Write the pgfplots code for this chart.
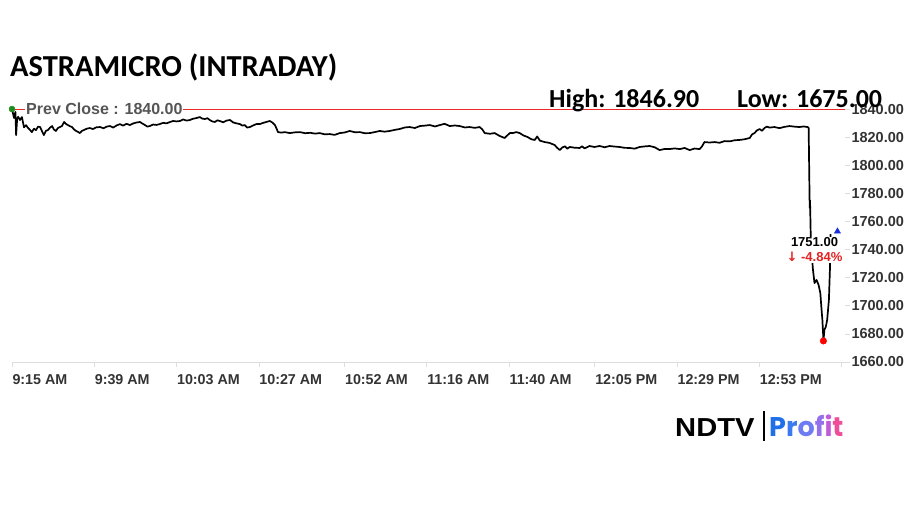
\documentclass[border=0pt]{standalone}
\usepackage{fontspec}
\setmainfont{Liberation Sans}
\newfontfamily\calfont{Carlito}
\newfontfamily\popfont{Poppins}
\newfontfamily\djvfont{DejaVu Sans}
\usepackage{pgfplots}
\pgfplotsset{compat=1.18}

\definecolor{tickgray}{HTML}{333333}
\definecolor{axisgray}{HTML}{DDDDDD}
\definecolor{prevgray}{HTML}{555555}
\definecolor{prevred}{RGB}{235,40,40}
\definecolor{dropred}{HTML}{E52222}
\definecolor{opengreen}{HTML}{1E8C1E}
\definecolor{lastblue}{HTML}{1A2ED8}
\definecolor{pA}{HTML}{1E6FE8}
\definecolor{pB}{HTML}{3C7AF0}
\definecolor{pC}{HTML}{6D7CF2}
\definecolor{pD}{HTML}{9470EC}
\definecolor{pE}{HTML}{C05CD8}
\definecolor{pF}{HTML}{EE4D9A}

\begin{document}
\begin{tikzpicture}[x=1pt,y=1pt]
\path[use as bounding box] (0,0) rectangle (914,514);

\begin{axis}[
    at={(12pt,152pt)}, anchor=south west,
    width=833pt, height=267pt, scale only axis,
    xmin=0, xmax=243, ymin=1660, ymax=1850,
    axis x line*=bottom, axis y line*=right,
    x axis line style={draw=axisgray, line width=0.8pt},
    y axis line style={draw=none},
    xtick={0,24,48,72,97,121,145,170,194,218,242},
    xticklabels={9:15 AM,9:39 AM,10:03 AM,10:27 AM,10:52 AM,11:16 AM,11:40 AM,12:05 PM,12:29 PM,12:53 PM,{}},
    ytick={1660,1680,...,1840},
    tick align=outside, major tick length=5pt,
    tick style={draw=axisgray, line width=0.6pt},
    xticklabel style={anchor=north west, xshift=-3pt, yshift=-4pt,
        font=\fontsize{14.3}{16}\selectfont\bfseries, text=tickgray},
    yticklabel style={anchor=west, xshift=-2pt,
        font=\fontsize{14.5}{16}\selectfont\bfseries, text=tickgray},
    clip=false,
    /pgf/number format/.cd, fixed, fixed zerofill, precision=2,
    1000 sep={}, assume math mode=true,
]

% previous close reference
\addplot[color=prevred, solid, line width=0.8pt, forget plot] table {
x y
0 1840
243 1840
};

% intraday price (minutes after 9:15)
\addplot[black, line width=1.7pt, line join=round] coordinates {
(0,1840) (0.6,1833.6) (1.0,1838) (1.2,1821.5) (1.5,1833) (1.8,1834.5)
(2.3,1832.2) (2.9,1834.3) (3.5,1827) (4.1,1828.5) (4.7,1826.5) (5.3,1825)
(5.8,1823.6) (6.4,1826) (7.0,1825) (7.6,1827.5) (8.2,1827.2) (8.8,1824)
(9.3,1821.5) (9.9,1824.5) (10.5,1825.1) (11.1,1826.8) (11.7,1827.9) (12.2,1825.5)
(12.8,1824.4) (13.4,1826.5) (14.0,1827.2) (14.6,1828) (15.2,1830.8) (15.7,1829.5)
(16.3,1828.6) (16.9,1827.8) (17.5,1827.2) (18.1,1825.5) (18.7,1824.4) (19.2,1823.8)
(19.8,1822.9) (20.4,1824.5) (21.0,1825.1) (21.8,1826) (22.7,1826.5) (23.6,1825.8)
(24.6,1827) (25.7,1827.2) (26.7,1826.3) (27.6,1827.5) (28.6,1827.9) (29.5,1826.8)
(30.5,1828.3) (31.5,1829.3) (32.4,1828.2) (33.4,1829.5) (34.4,1828.6) (35.4,1829.8)
(36.3,1830.4) (37.3,1830.8) (38.1,1829.6) (38.8,1828.6) (39.5,1827.5) (40.2,1827.9)
(41.2,1829) (42.1,1828.7) (43.1,1829.3) (44.1,1830.2) (45.1,1829.8) (46.1,1830.8)
(47.0,1831.5) (48.0,1831.2) (49.0,1831.5) (49.9,1832.6) (50.9,1831.8) (51.9,1832.2)
(52.8,1833.1) (53.8,1833.6) (54.8,1834.3) (55.5,1833.2) (56.3,1832.9) (57.0,1833.5)
(57.7,1832.2) (58.4,1831.2) (59.2,1830.8) (59.9,1832) (60.6,1831.5) (61.6,1830.6)
(62.6,1831.8) (63.6,1832.2) (64.5,1830.5) (65.5,1829.8) (66.5,1829.3) (67.2,1828.2)
(67.9,1828.6) (68.6,1826.8) (69.4,1827.2) (70.4,1828.4) (71.3,1829.3) (72.3,1829.3)
(73.3,1830.2) (74.2,1830.8) (75.2,1831.5) (75.9,1830.5) (76.7,1828.6) (77.2,1826)
(77.6,1823.6) (78.6,1823.2) (79.6,1823.6) (81.0,1822.9) (82.5,1823.4) (84.0,1823.6)
(85.5,1822.8) (87.0,1823.1) (88.4,1822.5) (89.8,1822.9) (91.2,1822.0) (92.7,1822.2)
(94.1,1821.6) (95.6,1822.9) (97.0,1823.3) (98.5,1824.4) (100.0,1823.5) (101.5,1823.6)
(102.9,1822.8) (104.4,1822.9) (105.8,1823.6) (107.3,1824.4) (108.7,1823.9) (110.2,1824.4)
(111.7,1825.2) (113.1,1825.8) (114.6,1826.9) (116.0,1827.2) (117.5,1826.5) (119.0,1827.9)
(120.4,1828.2) (121.9,1828.6) (123.4,1827.6) (124.8,1828.6) (126.2,1829.5) (127.7,1827.9)
(129.2,1828.3) (130.6,1827.9) (132.1,1826.9) (133.5,1827.2) (135.0,1826.6) (136.4,1827.2)
(137.2,1825.5) (137.9,1822.9) (139.4,1822.4) (140.8,1822.9) (142.3,1820.8) (143.7,1819.4)
(144.6,1821.5) (145.3,1823) (146.1,1822.9) (147.1,1823.6) (148.1,1822.9) (149.2,1821.2)
(150.4,1820.1) (151.5,1818.5) (152.5,1818.0) (153.2,1820.5) (154.0,1817.5) (155.4,1816.5)
(156.8,1815.9) (158.3,1814.4) (159.0,1812.5) (159.8,1810.8) (160.5,1812.6) (161.3,1813.5)
(162.0,1811.8) (162.7,1813.0) (164.1,1812.5) (165.6,1812.3) (166.3,1813.5) (167.0,1812.0)
(168.5,1813.7) (169.9,1813.0) (171.4,1813.7) (172.9,1812.8) (174.3,1813.7) (175.8,1813.3)
(177.3,1813.0) (178.7,1812.4) (180.2,1812.3) (181.6,1811.8) (183.1,1813.0) (184.5,1813.4)
(186.0,1813.7) (187.5,1812.8) (188.9,1810.8) (190.4,1811.6) (191.8,1811.5) (193.3,1812.0)
(194.8,1811.5) (196.2,1812.3) (197.7,1810.8) (199.1,1811.9) (200.6,1811.5) (201.3,1813.5)
(202.0,1816.5) (203.5,1816.2) (205.0,1816.5) (206.4,1816.0) (207.9,1817.2) (209.4,1817.0)
(210.8,1817.8) (212.2,1818.0) (213.7,1818.5) (215.2,1819.4) (215.9,1822) (216.6,1822.9)
(217.3,1824.8) (218.1,1825.8) (218.8,1824.5) (219.5,1826.5) (220.2,1827.5) (221.0,1826.8)
(222.4,1827.2) (223.9,1826.4) (225.3,1827.3) (226.8,1827.9) (228.2,1827.5) (229.7,1827.2)
(230.9,1827.6) (232.1,1827.2) (232.4,1826.6) (232.7,1769.6) (232.8,1775) (233.0,1750.4)
(233.2,1743) (233.6,1726.9) (234.1,1716.2) (234.7,1718.4) (235.3,1714.8) (235.8,1709.1)
(236.1,1699.2) (236.4,1690) (236.6,1680.7) (236.7,1675) (237.0,1683) (237.4,1685)
(237.8,1690) (238.3,1704) (238.6,1725.5) (238.8,1751)
};

% open, day low and last-price markers
\addplot[only marks, mark=*, mark size=3pt, opengreen] coordinates {(0,1840)};
\addplot[only marks, mark=*, mark size=3.3pt, red] coordinates {(236.7,1675)};
\addplot[only marks, mark=triangle*, mark size=3.5pt, lastblue] coordinates {(240.8,1753)};

\node[fill=white, inner sep=1pt, anchor=west, text=prevgray,
      font=\fontsize{16}{18}\selectfont\bfseries] at (axis cs:3.8,1840) {Prev Close : 1840.00};
\node[fill=white, inner sep=1pt, align=center,
      font=\fontsize{13}{15}\selectfont\bfseries] at (axis cs:234.1,1739.7)
      {1751.00\\{\color{dropred}{\djvfont\bfseries ↓} -4.84\%}};
\end{axis}

% title
\node[anchor=base west, inner sep=0pt] at (10,437)
    {\calfont\bfseries\fontsize{30.5}{34}\selectfont ASTRAMICRO (INTRADAY)};
% high / low
\node[anchor=base west, inner sep=0pt] at (549,406)
    {\calfont\bfseries\fontsize{26}{30}\selectfont High: 1846.90};
\node[anchor=base west, inner sep=0pt] at (737,406)
    {\calfont\bfseries\fontsize{26}{30}\selectfont Low: 1675.00};

% logo
\node[anchor=base west, inner sep=0pt, xscale=1.12] at (675,77)
    {\bfseries\fontsize{26}{28}\selectfont NDTV};
\draw[line width=1.2pt] (764,73) -- (764,103);
\node[anchor=base west, inner sep=0pt] at (769,77)
    {\popfont\bfseries\fontsize{27}{30}\selectfont
     \textcolor{pA}{P}\textcolor{pB}{r}\textcolor{pC}{o}\textcolor{pD}{f}\textcolor{pE}{i}\textcolor{pF}{t}};
\end{tikzpicture}
\end{document}
